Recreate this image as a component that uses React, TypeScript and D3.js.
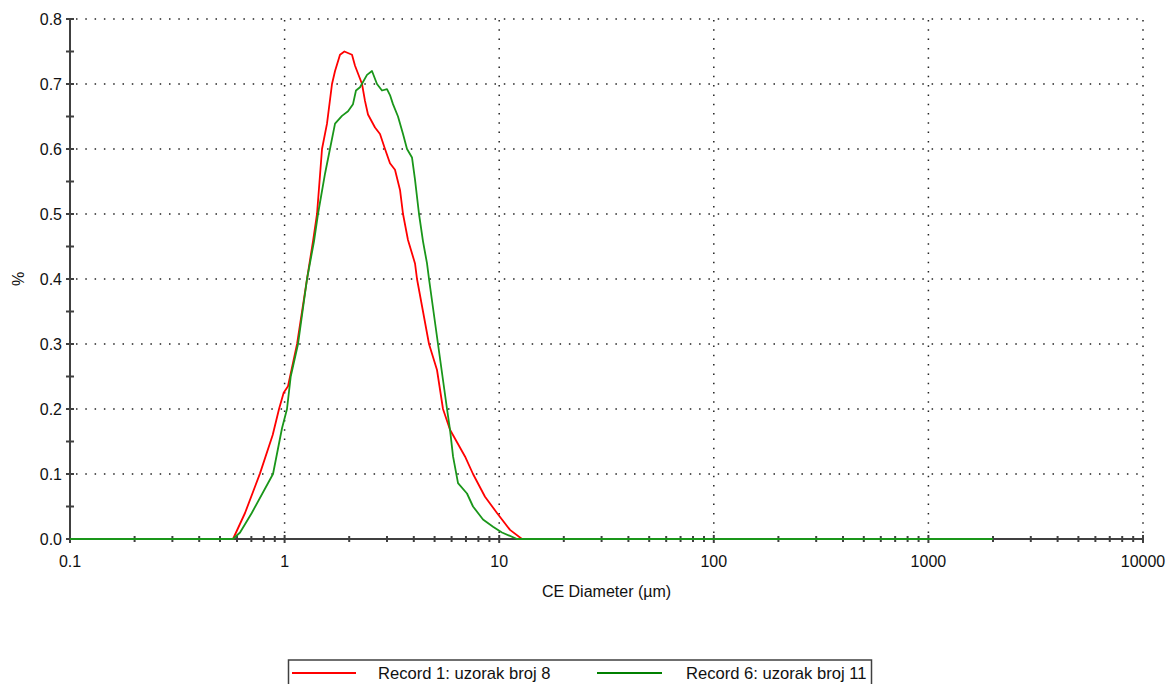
import React from "react";
import * as d3 from "d3";

// ---- data ----
const xTickValues = [0.1, 1, 10, 100, 1000, 10000];
const xTickLabels = ["0.1", "1", "10", "100", "1000", "10000"];
const yTickValues = [0, 0.1, 0.2, 0.3, 0.4, 0.5, 0.6, 0.7, 0.8];
const yTickLabels = ["0.0", "0.1", "0.2", "0.3", "0.4", "0.5", "0.6", "0.7", "0.8"];

const seriesNames = ["Record 1: uzorak broj 8", "Record 6: uzorak broj 11"];
const seriesColors = ["#ff0000", "#1a961a"];

// Record 1 (red): [CE diameter µm, %]
const record1: [number, number][] = [
  [0.1, 0], [0.575, 0], [0.654, 0.04], [0.768, 0.101], [0.88, 0.16], [0.942, 0.2],
  [0.99, 0.225], [1.037, 0.235], [1.143, 0.3], [1.272, 0.4], [1.356, 0.458],
  [1.416, 0.5], [1.494, 0.6], [1.576, 0.639], [1.663, 0.7], [1.718, 0.72],
  [1.812, 0.745], [1.9, 0.75], [2.061, 0.745], [2.129, 0.728], [2.295, 0.7],
  [2.369, 0.674], [2.447, 0.653], [2.638, 0.633], [2.783, 0.623], [2.937, 0.6],
  [3.098, 0.578], [3.269, 0.568], [3.45, 0.537], [3.563, 0.5], [3.758, 0.46],
  [4.052, 0.424], [4.14, 0.4], [4.709, 0.3], [5.131, 0.26], [5.472, 0.2],
  [5.9, 0.168], [6.929, 0.127], [7.551, 0.1], [8.588, 0.065], [9.766, 0.04],
  [11.23, 0.014], [12.77, 0], [2000, 0],
];

// Record 6 (green): [CE diameter µm, %]
const record6: [number, number][] = [
  [0.1, 0], [0.575, 0], [0.62, 0.01], [0.703, 0.04], [0.883, 0.1], [0.972, 0.17],
  [1.026, 0.2], [1.068, 0.25], [1.155, 0.3], [1.272, 0.4], [1.371, 0.458],
  [1.431, 0.5], [1.543, 0.562], [1.627, 0.6], [1.718, 0.639], [1.851, 0.651],
  [1.975, 0.658], [2.083, 0.669], [2.151, 0.69], [2.246, 0.695], [2.421, 0.714],
  [2.554, 0.72], [2.695, 0.7], [2.843, 0.69], [3.0, 0.692], [3.098, 0.683],
  [3.199, 0.669], [3.376, 0.65], [3.563, 0.623], [3.719, 0.6], [3.923, 0.587],
  [4.052, 0.553], [4.23, 0.5], [4.415, 0.458], [4.609, 0.424], [4.709, 0.4],
  [5.186, 0.3], [5.713, 0.2], [5.9, 0.168], [6.094, 0.127], [6.429, 0.086],
  [7.079, 0.07], [7.551, 0.05], [8.406, 0.03], [9.357, 0.019], [10.3, 0.01],
  [12.11, 0], [2000, 0],
];

const FONT = "'Liberation Sans', Arial, sans-serif";
const AXIS = "#404040";

export default function App() {
  const left = 70, right = 1143, top = 19, bottom = 539;
  const x = d3.scaleLog().domain([0.1, 10000]).range([left, right]);
  const y = d3.scaleLinear().domain([0, 0.8]).range([bottom, top]);

  const line = d3
    .line<[number, number]>()
    .x((d) => x(d[0]))
    .y((d) => y(d[1]));

  // minor x ticks: 2..9 in each decade
  const minorX: number[] = [];
  for (let e = -1; e < 4; e++) {
    for (let m = 2; m <= 9; m++) minorX.push(m * Math.pow(10, e));
  }
  const minorY: number[] = d3.range(0.05, 0.8, 0.1);

  const gridDash = "1.5 7.8";

  return (
    <svg
      width={1169}
      height={684}
      style={{ position: "absolute", left: 0, top: 0, background: "#fff" }}
      fontFamily={FONT}
    >
      <rect x={0} y={0} width={1169} height={684} fill="#fff" />
      {/* horizontal grid */}
      {yTickValues.slice(1).map((v) => (
        <line
          key={"hg" + v}
          x1={left + 6}
          x2={right}
          y1={y(v)}
          y2={y(v)}
          stroke="#222"
          strokeWidth={1.5}
          strokeDasharray={gridDash}
        />
      ))}
      {/* vertical grid */}
      {xTickValues.slice(1).map((v) => (
        <line
          key={"vg" + v}
          x1={x(v)}
          x2={x(v)}
          y1={bottom - 6}
          y2={top}
          stroke="#222"
          strokeWidth={1.5}
          strokeDasharray={gridDash}
        />
      ))}

      {/* axes */}
      <line x1={left} x2={left} y1={top} y2={bottom} stroke={AXIS} strokeWidth={2} />
      <line x1={left} x2={right} y1={bottom} y2={bottom} stroke={AXIS} strokeWidth={2} />

      {/* y ticks */}
      {yTickValues.map((v, i) => (
        <g key={"yt" + v}>
          <line x1={left - 4} x2={left + 4} y1={y(v)} y2={y(v)} stroke={AXIS} strokeWidth={2} />
          <text
            x={left - 8}
            y={y(v)}
            dy="0.36em"
            textAnchor="end"
            fontSize={16}
            fill="#111"
          >
            {yTickLabels[i]}
          </text>
        </g>
      ))}
      {minorY.map((v) => (
        <line key={"ym" + v} x1={left - 4} x2={left + 4} y1={y(v)} y2={y(v)} stroke={AXIS} strokeWidth={2} />
      ))}

      {/* x ticks */}
      {xTickValues.map((v, i) => (
        <g key={"xt" + v}>
          <line x1={x(v)} x2={x(v)} y1={bottom - 4} y2={bottom + 4} stroke={AXIS} strokeWidth={2} />
          <text x={x(v)} y={567} textAnchor="middle" fontSize={16} fill="#111">
            {xTickLabels[i]}
          </text>
        </g>
      ))}
      {minorX.map((v) => (
        <line key={"xm" + v} x1={x(v)} x2={x(v)} y1={bottom - 3} y2={bottom + 3} stroke={AXIS} strokeWidth={2} />
      ))}

      {/* axis titles */}
      <text x={(left + right) / 2} y={597} textAnchor="middle" fontSize={16} fill="#111">
        CE Diameter (µm)
      </text>
      <text
        transform={`translate(24, ${279}) rotate(-90)`}
        textAnchor="middle"
        fontSize={16}
        fill="#111"
      >
        %
      </text>

      {/* series */}
      <path d={line(record1) || ""} fill="none" stroke={seriesColors[0]} strokeWidth={1.8} strokeLinejoin="round" />
      <path d={line(record6) || ""} fill="none" stroke={seriesColors[1]} strokeWidth={1.8} strokeLinejoin="round" />

      {/* legend */}
      <rect x={288.5} y={660} width={583} height={40} fill="#fff" stroke={AXIS} strokeWidth={1.5} />
      <line x1={292} x2={356} y1={673} y2={673} stroke={seriesColors[0]} strokeWidth={1.8} />
      <text x={378} y={679} fontSize={16.6} fill="#111">
        {seriesNames[0]}
      </text>
      <line x1={597} x2={662} y1={673} y2={673} stroke="#008000" strokeWidth={1.8} />
      <text x={686} y={679} fontSize={16.6} fill="#111">
        {seriesNames[1]}
      </text>
    </svg>
  );
}
